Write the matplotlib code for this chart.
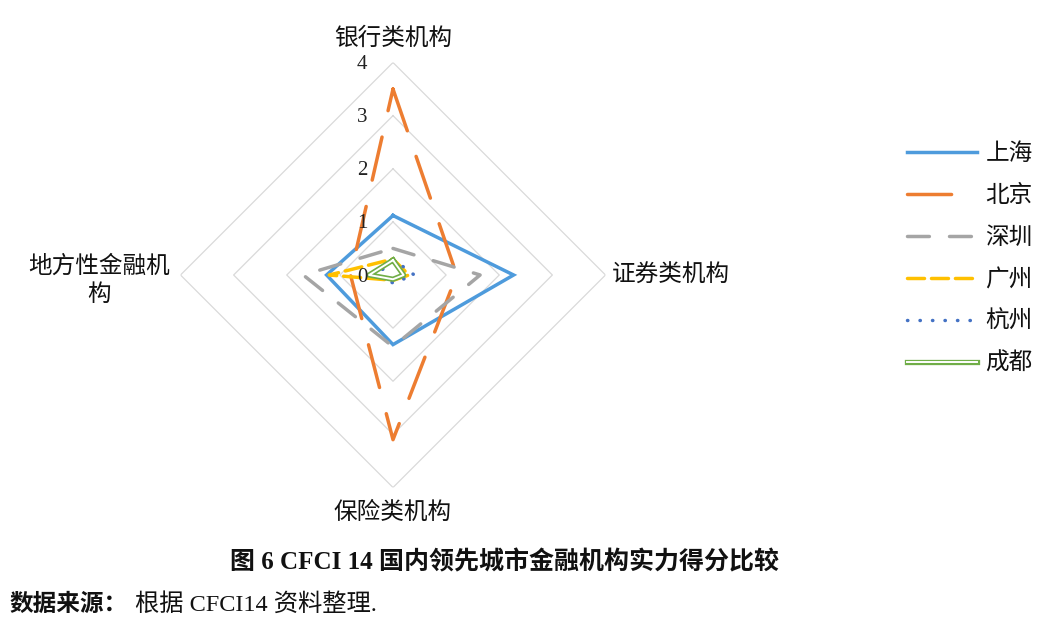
import numpy as np
import matplotlib
matplotlib.use("Agg")
import matplotlib.pyplot as plt
from matplotlib.transforms import offset_copy

plt.rcParams['font.family'] = ['Noto Sans CJK SC', 'DejaVu Sans']

categories = ['银行类机构', '证券类机构', '保险类机构', '地方性金融机构']
cities = ['上海', '北京', '深圳', '广州', '杭州', '成都']
shanghai = [1.12, 2.27, 1.31, 1.25]
beijing = [3.5, 1.2, 3.1, 0.8]
shenzhen = [0.5, 1.64, 1.35, 1.69]
guangzhou = [0.3, 0.3, 0.1, 1.2]
hangzhou = [0.3, 0.4, 0.15, 0.3]
chengdu = [0.28, 0.2, 0.08, 0.45]
r_ticks = [0, 1, 2, 3, 4]

W, H = 1064, 630
fig = plt.figure(figsize=(W / 100, H / 100), dpi=100)
fig.patch.set_facecolor('white')

cx, cy, R = 393, 275, 212.5
ax = fig.add_axes([(cx - R) / W, (H - cy - R) / H, 2 * R / W, 2 * R / H], projection='polar')
ax.set_theta_offset(np.pi / 2)
ax.set_theta_direction(-1)
ax.set_ylim(0, 4)
ax.grid(False)
ax.spines['polar'].set_visible(False)
ax.set_xticks([])
ax.set_yticks([])
ax.patch.set_alpha(0)

angles = np.linspace(0, 2 * np.pi, len(categories), endpoint=False)
closed = np.concatenate([angles, angles[:1]])

# diamond grid
for r in r_ticks[1:]:
    ax.plot(closed, [r] * len(closed), color='#d9d9d9', lw=0.9, zorder=1)

# radial tick labels
trans = offset_copy(ax.transData, fig=fig, x=-31, y=-2, units='dots')
for r in r_ticks:
    ax.text(0, r, str(r), transform=trans, ha='center', va='center',
            fontsize=15, family=['Liberation Serif'], color='#222222', zorder=20)

def close(v):
    return list(v) + [v[0]]

lw = 2.5
h_sh, = ax.plot(closed, close(shanghai), color='#4E9BDC', lw=lw, solid_joinstyle='miter', zorder=3)
h_bj, = ax.plot(closed, close(beijing), color='#ED7D31', lw=lw, dashes=(12.7, 7.8), dash_capstyle='round', zorder=4)
h_sz, = ax.plot(closed, close(shenzhen), color='#A5A5A5', lw=lw, dashes=(6.3, 5.8), dash_capstyle='round', zorder=5)
h_gz, = ax.plot(closed, close(guangzhou), color='#FFC000', lw=lw, dashes=(4.9, 2.0), dash_capstyle='round', zorder=6)
h_hz, = ax.plot(closed, close(hangzhou), color='#4472C4', lw=lw, dashes=(0.1, 3.5), dash_capstyle='round', zorder=7)
h_cd1, = ax.plot(closed, close(chengdu), color='#70AD47', lw=3.8, zorder=8)
h_cd2, = ax.plot(closed, close(chengdu), color='white', lw=1.4, zorder=9)

# category labels
lab_kw = dict(fontsize=17, color='#111111')
ax.text(angles[0], 4.45, categories[0], ha='center', va='center', **lab_kw)
ax.text(angles[1], 4.12, categories[1], ha='left', va='center', **lab_kw)
ax.text(angles[2], 4.47, categories[2], ha='center', va='center', **lab_kw)
lt = ax.text(angles[3], 4.2, '地方性金融机\n构', ha='right', va='center',
             multialignment='center', linespacing=1.3, **lab_kw)
lt.set_transform(offset_copy(ax.transData, fig=fig, x=0, y=-5, units='dots'))

# legend
leg_handles = [h_sh, h_bj, h_sz, h_gz, h_hz, (h_cd1, h_cd2)]
leg = fig.legend(leg_handles, cities, loc='upper left',
                 bbox_to_anchor=(898 / W, 1 - 133 / H), frameon=False,
                 fontsize=17, handlelength=2.95, handletextpad=0.35,
                 labelspacing=0.8, borderaxespad=0)
for t in leg.get_texts():
    t.set_color('#111111')

# caption
fig.text(505 / W, 1 - 562 / H, '图 6 CFCI 14 国内领先城市金融机构实力得分比较',
         ha='center', va='center', fontsize=18, fontweight='bold',
         family=['Liberation Serif', 'Noto Sans CJK SC'], color='#111111')
fig.text(10 / W, 1 - 604 / H, '数据来源：', ha='left', va='center',
         fontsize=17, fontweight='bold', color='#111111')
fig.text(135 / W, 1 - 604 / H, '根据 CFCI14 资料整理.', ha='left', va='center',
         fontsize=17.5, family=['Liberation Serif', 'Noto Sans CJK SC'], color='#111111')

fig.savefig('out.png', dpi=100, facecolor='white')
